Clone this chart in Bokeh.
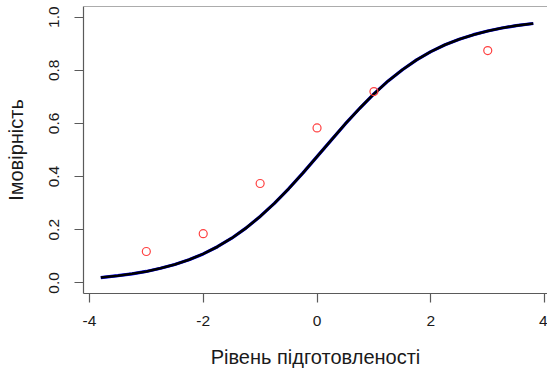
from bokeh.plotting import figure
from bokeh.models import Range1d, FixedTicker, Span
from bokeh.embed import file_html
from bokeh.resources import INLINE

# ---- data ----
x_ticks = [-4, -2, 0, 2, 4]
x_tick_labels = ["-4", "-2", "0", "2", "4"]
y_ticks = [0.0, 0.2, 0.4, 0.6, 0.8, 1.0]
y_tick_labels = ["0.0", "0.2", "0.4", "0.6", "0.8", "1.0"]

obs_x = [-3, -2, -1, 0, 1, 3]
obs_p = [0.118, 0.185, 0.374, 0.583, 0.720, 0.874]

curve_x = [-3.8, -3.5, -3.25, -3.0, -2.75, -2.5, -2.25, -2.0, -1.75, -1.5, -1.25,
           -1.0, -0.75, -0.5, -0.25, 0.0, 0.25, 0.5, 0.75, 1.0, 1.25, 1.5, 1.75,
           2.0, 2.25, 2.5, 2.75, 3.0, 3.25, 3.5, 3.8]
curve_p = [0.020, 0.027, 0.034, 0.043, 0.055, 0.069, 0.087, 0.109, 0.136, 0.168, 0.206,
           0.250, 0.299, 0.354, 0.413, 0.475, 0.537, 0.599, 0.657, 0.711, 0.760, 0.802, 0.839,
           0.870, 0.896, 0.917, 0.934, 0.948, 0.959, 0.968, 0.976]

FONT = "Liberation Sans"
FRAME_COLOR = "#5a5a5a"

p = figure(width=547, height=370, output_backend="svg", toolbar_location=None,
           x_range=Range1d(-4.104, 4.05), y_range=Range1d(-0.04, 1.04),
           min_border_left=83, min_border_right=0, min_border_top=6, min_border_bottom=77)

p.outline_line_color = None
p.background_fill_color = "white"
p.border_fill_color = "white"
p.xgrid.visible = False
p.ygrid.visible = False

p.add_layout(Span(location=1.04, dimension="width", line_color=FRAME_COLOR, line_width=1.2))

# curves: blue underneath, black on top
p.line(curve_x, curve_p, line_color="#0000ff", line_width=3.2)
p.line(curve_x, curve_p, line_color="black", line_width=2.6)

p.scatter(obs_x, obs_p, marker="circle", size=8, fill_color=None,
          line_color="#ff4040", line_width=1.2)

for ax in (p.xaxis[0], p.yaxis[0]):
    ax.axis_line_color = FRAME_COLOR
    ax.axis_line_width = 1.2
    ax.major_tick_line_color = FRAME_COLOR
    ax.major_tick_line_width = 1.2
    ax.major_tick_in = 0
    ax.major_tick_out = 9
    ax.minor_tick_line_color = None
    ax.major_label_text_font = FONT
    ax.major_label_text_font_size = "15.5px"
    ax.major_label_text_color = "#1a1a1a"
    ax.axis_label_text_font = FONT
    ax.axis_label_text_font_size = "20px"
    ax.axis_label_text_font_style = "normal"
    ax.axis_label_text_color = "#1a1a1a"

p.xaxis.ticker = FixedTicker(ticks=x_ticks)
p.xaxis.major_label_overrides = dict(zip(x_ticks, x_tick_labels))
p.yaxis.ticker = FixedTicker(ticks=y_ticks)
p.yaxis.major_label_overrides = dict(zip(y_ticks, y_tick_labels))
p.yaxis.major_label_orientation = "vertical"

p.xaxis.axis_label = "Рівень підготовленості"
p.yaxis.axis_label = "Імовірність"
p.xaxis.major_label_standoff = 13
p.xaxis.axis_label_standoff = 17
p.yaxis.major_label_standoff = 15
p.yaxis.axis_label_standoff = 20

open("out.html", "w").write(file_html(p, INLINE))
